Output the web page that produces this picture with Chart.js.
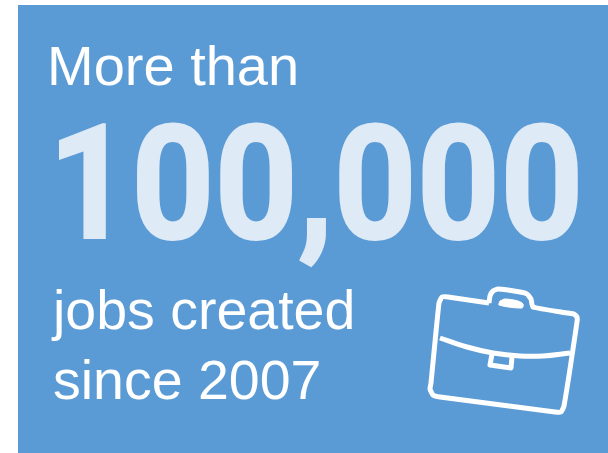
<!DOCTYPE html>
<html>
<head>
<meta charset="utf-8">
<style>
html, body { margin: 0; padding: 0; background: #fff; }
#wrap { position: absolute; left: 0; top: 0; width: 608px; height: 453px; }
</style>
<script src="https://cdn.jsdelivr.net/npm/chart.js@4"></script>
</head>
<body>
<div id="wrap"><canvas id="jobs" width="608" height="453"></canvas></div>
<script>
// text lines of the graphic
const lineLabels = ["More than", "100,000", "jobs created", "since 2007"];
const lineX = [47, 48, 53, 53];
const lineY = [85, 238, 329, 399];
const lineSizes = [56, 159, 55.5, 55.5];
const lineWidths = [1, 0.913, 1, 1];
const lineStrokes = [0, 2, 0, 0];
const lineWeights = ["normal", "bold", "normal", "normal"];
const lineFonts = ["Liberation Sans", "Roboto", "Liberation Sans", "Liberation Sans"];
const lineColors = ["#ffffff", "#deeaf6", "#ffffff", "#ffffff"];

// briefcase, in page pixels
const caseX = [489, 448, 442, 439, 431, 430, 433, 440, 555, 561, 564, 577, 577, 574, 568, 533, 531, 527, 520, 498, 493, 490, 489];
const caseY = [303, 297, 297, 303, 383, 389, 395, 397, 412, 412, 406, 322, 317, 314, 313, 307, 299, 294, 292, 289, 291, 296, 303];
const flapX = [440, 467, 493, 520, 543, 570];
const flapY = [338, 347, 353, 356, 356, 353];
const padX = [500, 505, 518, 523, 522, 499, 500];
const padY = [301, 299, 301, 304, 308, 305, 301];
const claspX = [492, 490, 511, 512];
const claspY = [354, 365, 368, 357];

const toPoints = (xs, ys) => xs.map((x, i) => ({ x: x, y: ys[i] }));
const iconLine = (xs, ys, tension, fill) => ({
    data: toPoints(xs, ys),
    showLine: true,
    borderColor: "#ffffff",
    backgroundColor: "#ffffff",
    borderWidth: 5,
    borderJoinStyle: "round",
    pointRadius: 0,
    tension: tension,
    fill: fill,
});

const panel = {
    id: "panel",
    beforeDraw: function (chart) {
        const ctx = chart.ctx;
        ctx.fillStyle = "#5b9bd5";
        ctx.fillRect(18, 5, 590, 448);
    },
    afterDraw: function (chart) {
        const ctx = chart.ctx;
        ctx.textBaseline = "alphabetic";
        lineLabels.forEach(function (label, i) {
            ctx.save();
            ctx.translate(lineX[i], lineY[i]);
            ctx.scale(lineWidths[i], 1);
            ctx.font = lineWeights[i] + " " + lineSizes[i] + 'px "' + lineFonts[i] + '"';
            ctx.fillStyle = lineColors[i];
            ctx.fillText(label, 0, 0);
            if (lineStrokes[i] > 0) {
                ctx.strokeStyle = lineColors[i];
                ctx.lineWidth = lineStrokes[i];
                ctx.strokeText(label, 0, 0);
            }
            ctx.restore();
        });
    },
};

new Chart(document.getElementById("jobs"), {
    type: "scatter",
    data: {
        datasets: [
            iconLine(caseX, caseY, 0.15, false),
            iconLine(flapX, flapY, 0.4, false),
            iconLine(claspX, claspY, 0, false),
            Object.assign(iconLine(padX, padY, 0.3, "shape"), { borderWidth: 1 }),
        ],
    },
    options: {
        responsive: false,
        animation: false,
        layout: { padding: 0 },
        plugins: { legend: { display: false }, tooltip: { enabled: false } },
        scales: {
            x: { type: "linear", min: 0, max: 608, display: false },
            y: { type: "linear", min: 0, max: 453, reverse: true, display: false },
        },
    },
    plugins: [panel],
});
</script>
</body>
</html>
